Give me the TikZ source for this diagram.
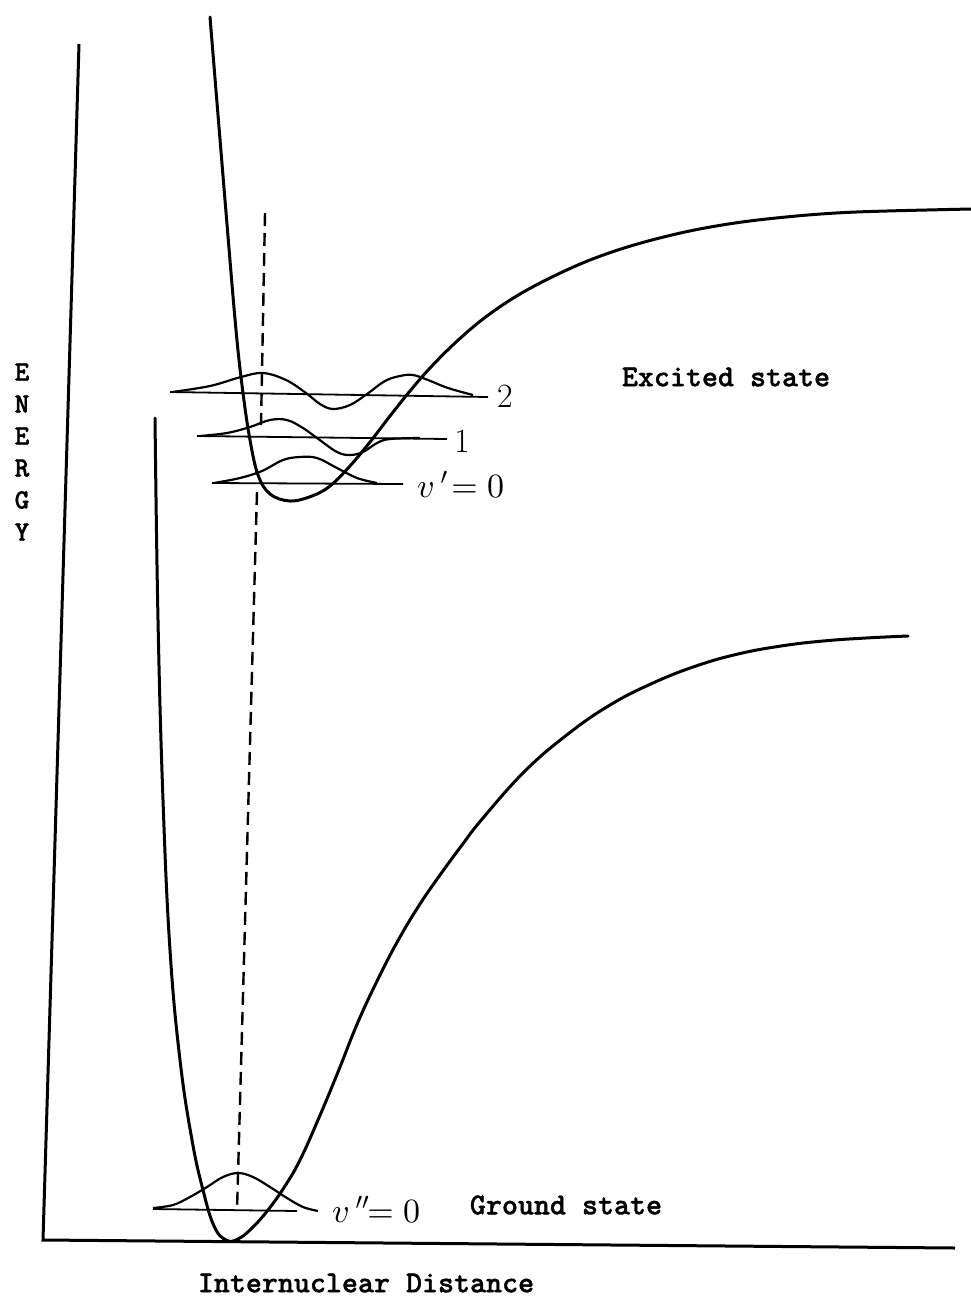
\documentclass[tikz,border=0pt]{standalone}
\usepackage{fontspec}
\newfontfamily\tw{lmmonolt10-bold.otf}[FakeBold=1.2]
\DeclareFontShape{OML}{cmm}{m}{it}{<->cmmi10}{}
\DeclareFontShape{OT1}{cmr}{m}{n}{<->cmr10}{}
\DeclareFontShape{OMS}{cmsy}{m}{n}{<->cmsy10}{}
\begin{document}
\begin{tikzpicture}[x=1pt,y=-1pt,
  pes/.style={line width=3pt, line join=round, line cap=round},
  axisline/.style={line width=3pt, line join=miter},
  level/.style={line width=1.8pt},
  wave/.style={line width=2.2pt, line join=round},
  dashline/.style={line width=2.4pt, dash pattern=on 13pt off 7pt},
  lbl/.style={font=\tw\bfseries\fontsize{30.5}{32}\selectfont, inner sep=0pt},
  qn/.style={font=\fontsize{34}{36}\selectfont, inner sep=0pt, anchor=base west}]
\useasboundingbox (0,0) rectangle (971,1299);
\fill[white] (0,0) rectangle (971,1299);

% axes
\coordinate (ytop) at (79,44);
\coordinate (origin) at (43,1240);
\coordinate (xend) at (955,1248);
\draw[axisline] (ytop) -- (origin) -- (xend);

% ground state potential
\draw[pes] plot[smooth, tension=0.7] coordinates {
  (155,418) (158,620) (163,800) (170,950) (180,1060)
  (192,1140) (203,1190) (214,1226) (226,1240) (238,1239)
  (252,1228) (268,1210) (285,1186) (300,1160) (318,1120) (338,1072)
  (358,1022) (380,975) (400,937) (420,904) (440,875) (462,845)
  (483,818) (525,771) (568,734) (610,705) (653,683) (696,666)
  (738,654) (781,646) (823,641) (866,638) (908,636)};

% excited state potential
\draw[pes] plot[smooth, tension=0.6] coordinates {
  (210,17) (225,200) (236,330) (243,393) (250,440) (258,475) (270,494)
  (290,501) (312,496) (330,486) (350,466) (370,442) (390,416) (410,391)
  (430,368) (455,343) (483,319) (515,297) (550,278) (590,260) (634,245)
  (685,232) (735,223) (786,217) (836,213) (887,211) (971,209)};

% excited vibrational levels
\coordinate (l2a) at (170,392); \coordinate (l2b) at (488,397);
\coordinate (l1a) at (197,436); \coordinate (l1b) at (447,439);
\coordinate (l0a) at (212,483); \coordinate (l0b) at (403,484);
\draw[level] (l2a) -- (l2b);
\draw[level] (l1a) -- (l1b);
\draw[level] (l0a) -- (l0b);

\draw[wave] plot[smooth, tension=0.6] coordinates {
  (172,392) (210,386) (241,377) (263,373) (286,380) (306,393) (320,404)
  (333,409) (350,405) (367,394) (385,381) (400,376) (413,375) (428,380)
  (448,388) (473,395)};
\draw[wave] plot[smooth, tension=0.6] coordinates {
  (200,436) (227,433) (250,427) (270,420) (287,420) (303,428) (317,438)
  (337,452) (350,455) (363,452) (377,443) (390,439) (420,438)};
\draw[wave] plot[smooth, tension=0.6] coordinates {
  (214,483) (240,478) (262,471) (283,460) (300,457) (317,458) (337,468)
  (357,478) (377,483)};

% ground vibrational level
\coordinate (g0a) at (153,1209); \coordinate (g0b) at (297,1211);
\draw[level] (g0a) -- (g0b);
\draw[wave] plot[smooth, tension=0.6] coordinates {
  (153,1208) (173,1205) (190,1197) (207,1187) (223,1177) (238,1173)
  (253,1177) (270,1187) (287,1198) (303,1207) (318,1211)};

% vertical dashed line
\coordinate (d1) at (265,213);
\coordinate (d2) at (261,425);
\coordinate (d3) at (257,492);
\coordinate (d4) at (237,1211);
\draw[dashline] (d1) -- (d2);
\draw[dashline] (d3) -- (d4);

% quantum number labels
\node[qn] (n2) at (497,407) {2};
\node[qn] (n1) at (454,452) {1};
\node[qn] (nv1) at (417,497) {$v\,'\!=0$};
\node[qn] (nv2) at (332,1222) {$v\,''\!\!=0$};

% text labels
\node[lbl] (exc) at (726,377) {Excited state};
\node[lbl] (gnd) at (566,1205) {Ground state};
\node[lbl] (xlab) at (366,1283) {Internuclear Distance};
\node[lbl, font=\tw\bfseries\fontsize{28}{32}\selectfont, align=center] (ylab) at (22,452) {E\\N\\E\\R\\G\\Y};
\end{tikzpicture}
\end{document}
